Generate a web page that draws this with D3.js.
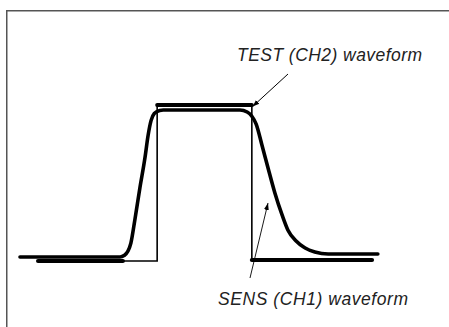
<!DOCTYPE html>
<html><head><meta charset="utf-8">
<script src="https://cdn.jsdelivr.net/npm/d3@7"></script>
<style>html,body{margin:0;padding:0;background:#fff;}svg{display:block;}</style>
</head><body>
<script>
// time (arbitrary units, 0..100) and level (% of high, 0..100)
const testWave = [[5,0],[38.1,0],[38.1,100],[64.4,100],[64.4,0.6],[97.8,0.6]];
const testThick = [[[5,0],[28.6,0]], [[38.1,100],[64.4,100]], [[64.4,0.6],[97.8,0.6]]];
const sensWave = [[0,2.6],[27.8,2.6],[28.9,3.5],[30,6.4],[30.8,11.5],[31.9,26.3],[33.3,46.8],[34.7,66],
  [35.6,80.8],[36.4,90],[37.3,94.6],[38.8,96.5],[39.8,96.8],[61.1,96.8],[63.1,95.5],[64.4,92.8],[65.6,87.8],
  [67.2,74.4],[68.9,59.6],[70.8,43.6],[72.8,29.5],[74.4,19.9],[76.7,12.8],[79.2,8.3],[81.9,5.8],
  [85.6,4.5],[99.4,4.5]];
const labels = ["TEST (CH2) waveform","SENS (CH1) waveform"];

const W=449,H=327;
const svg=d3.select("body").append("svg").attr("width",W).attr("height",H);
const x=d3.scaleLinear().domain([0,100]).range([20,380]);
const y=d3.scaleLinear().domain([0,100]).range([261,105]);

// frame
svg.append("path").attr("d",`M6.75,${H} V10.75 H${W}`).attr("fill","none").attr("stroke","#555").attr("stroke-width",1.5);

const line=d3.line().x(d=>x(d[0])).y(d=>y(d[1]));
// test square wave thin
svg.append("path").attr("d",line(testWave)).attr("fill","none").attr("stroke","#000").attr("stroke-width",1.6);
testThick.forEach(s=>svg.append("path").attr("d",line(s)).attr("fill","none").attr("stroke","#000").attr("stroke-width",4).attr("stroke-linecap","round"));
// sens
svg.append("path").attr("d",line.curve(d3.curveMonotoneX)(sensWave)).attr("fill","none").attr("stroke","#000").attr("stroke-width",3.6).attr("stroke-linecap","round");

// arrows
const defs=svg.append("defs");
defs.append("marker").attr("id","ah").attr("viewBox","0 0 10 10").attr("refX",10).attr("refY",5)
  .attr("markerWidth",7).attr("markerHeight",7).attr("orient","auto").attr("markerUnits","userSpaceOnUse")
  .append("path").attr("d","M0,1.5 L10,5 L0,8.5 Z").attr("fill","#000");
svg.append("line").attr("x1",288).attr("y1",74).attr("x2",x(64.6)).attr("y2",y(99)).attr("stroke","#000").attr("stroke-width",1).attr("marker-end","url(#ah)");
svg.append("line").attr("x1",250).attr("y1",278).attr("x2",268).attr("y2",203).attr("stroke","#000").attr("stroke-width",0.9).attr("marker-end","url(#ah)");

svg.append("text").attr("x",237).attr("y",60.5).attr("textLength",185).text(labels[0]);
svg.append("text").attr("x",218).attr("y",305).attr("textLength",190).text(labels[1]);
svg.selectAll("text").attr("font-family","'Liberation Sans',Arial,sans-serif").attr("font-style","italic").attr("font-size",17.5).attr("lengthAdjust","spacing").attr("fill","#222");
</script>
</body></html>
